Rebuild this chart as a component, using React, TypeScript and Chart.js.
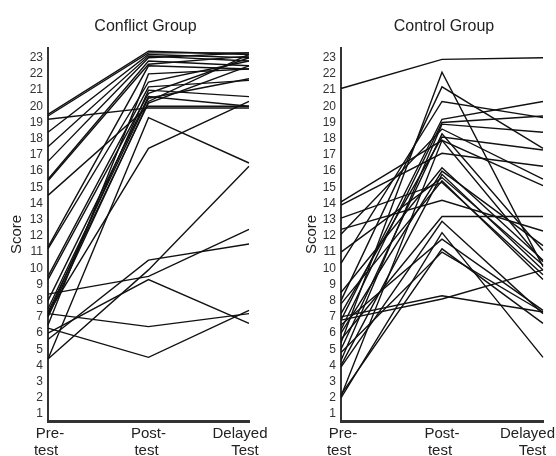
import React, { useEffect, useRef } from 'react';
import { Chart, registerables } from 'chart.js';

Chart.register(...registerables);

const CATEGORIES = ['Pre-test', 'Post-test', 'Delayed Test'];
const CATEGORY_LINES = [['Pre-', 'test'], ['Post-', 'test'], ['Delayed', 'Test']];
const Y_TICKS = [1, 2, 3, 4, 5, 6, 7, 8, 9, 10, 11, 12, 13, 14, 15, 16, 17, 18, 19, 20, 21, 22, 23];

// Conflict Group: one entry per student
const conflictPre = [19.4, 19.5, 18.4, 17.5, 16.6, 15.5, 15.4, 14.5, 19.2, 11.3, 11.2, 9.5, 9.3, 7.5, 7.3, 7.1, 7.0, 7.2, 4.4, 6.5, 8.0, 6.3, 7.2, 6.0, 5.6, 8.4, 4.4];
const conflictPost = [23.3, 23.4, 23.2, 23.1, 23.0, 22.8, 22.6, 20.0, 19.9, 22.5, 21.5, 21.2, 20.8, 20.5, 20.2, 21.0, 20.3, 17.4, 19.3, 22.0, 20.6, 4.5, 6.4, 9.3, 10.5, 9.5, 9.9];
const conflictDelayed = [23.3, 23.2, 23.0, 22.8, 23.3, 22.5, 23.1, 20.0, 19.9, 22.3, 22.8, 21.6, 23.0, 21.7, 22.5, 20.6, 23.2, 20.3, 16.5, 22.3, 20.0, 7.4, 7.2, 6.6, 11.5, 12.4, 16.3];

// Control Group: one entry per student
const controlPre = [21.1, 5.4, 8.0, 10.3, 6.8, 6.2, 4.3, 12.1, 7.2, 2.1, 13.9, 14.1, 5.0, 8.5, 6.0, 4.0, 11.0, 7.8, 13.1, 12.4, 5.6, 3.9, 2.0, 6.5, 2.2, 4.8, 7.0, 6.8];
const controlPost = [22.9, 22.1, 21.2, 20.3, 19.2, 19.0, 18.9, 18.6, 18.1, 17.9, 17.1, 17.9, 18.3, 16.2, 16.0, 15.8, 15.6, 15.4, 15.3, 14.2, 13.2, 12.9, 12.2, 11.8, 11.2, 11.0, 8.3, 8.1];
const controlDelayed = [23.0, 10.1, 17.4, 19.3, 20.3, 19.4, 18.4, 15.5, 17.3, 10.4, 16.3, 15.1, 11.1, 10.5, 11.4, 9.9, 10.2, 9.3, 9.6, 12.3, 13.2, 7.2, 4.5, 7.4, 6.6, 7.3, 7.3, 9.9];

const FONT = '"Liberation Sans", Arial, Helvetica, sans-serif';

const labelsPlugin = {
  id: 'panelLabels',
  afterDraw(chart: any, _args: any, opts: any) {
    const { ctx, chartArea } = chart;
    const x = chart.scales.x;
    ctx.save();
    ctx.fillStyle = '#222';
    ctx.textAlign = 'center';
    ctx.textBaseline = 'middle';
    ctx.font = `16px ${FONT}`;
    ctx.fillText(opts.title, (chartArea.left + chartArea.right) / 2 + opts.titleShift, 27);
    ctx.font = `15px ${FONT}`;
    const last = CATEGORY_LINES.length - 1;
    CATEGORY_LINES.forEach((lines, i) => {
      let cx = x.getPixelForValue(i);
      if (i === last) {
        const w0 = ctx.measureText(lines[0]).width;
        cx = Math.min(cx - 9, chart.width - w0 / 2 - 1);
      }
      lines.forEach((t, j) => {
        const dx = i === last && j === 1 ? 5 : (i === 0 && j === 0 ? 2 : (j === 1 && i !== last ? -2 : 0));
        ctx.fillText(t, cx + dx, x.top + 13 + j * 16.5);
      });
    });
    ctx.restore();
  },
};

type PanelProps = {
  title: string;
  pre: number[];
  post: number[];
  delayed: number[];
  axisWidth: number;
  scorePad: number;
  rightPad: number;
  titleShift: number;
};

function Panel({ title, pre, post, delayed, axisWidth, scorePad, rightPad, titleShift }: PanelProps) {
  const ref = useRef<HTMLCanvasElement | null>(null);
  useEffect(() => {
    if (!ref.current) return;
    const datasets = pre.map((p, i) => ({
      label: `${title} ${i + 1}`,
      data: [p, post[i], delayed[i]],
      borderColor: '#111',
      borderWidth: 1.4,
      pointRadius: 0,
      fill: false,
      tension: 0,
    }));
    const chart = new Chart(ref.current, {
      type: 'line',
      data: { labels: CATEGORIES, datasets },
      options: {
        animation: false,
        responsive: false,
        layout: { padding: { top: 48, right: rightPad, left: 0, bottom: 0 } },
        plugins: {
          legend: { display: false },
          tooltip: { enabled: false },
          title: { display: false },
          panelLabels: { title, titleShift },
        } as any,
        scales: {
          x: {
            type: 'category',
            offset: false,
            grid: { display: false, drawTicks: false },
            border: { display: true, color: '#333', width: 3 },
            ticks: { display: false },
            afterFit: (s: any) => { s.height = 35; },
          },
          y: {
            min: 0.57,
            max: 23.6,
            afterBuildTicks: (s: any) => { s.ticks = Y_TICKS.map((v) => ({ value: v })); },
            afterFit: (s: any) => { s.width = axisWidth; },
            grid: { display: false, drawTicks: false },
            border: { display: true, color: '#333', width: 2 },
            ticks: { padding: 5, color: '#333', autoSkip: false, font: { size: 12, family: FONT } },
            title: {
              display: true,
              text: 'Score',
              color: '#222',
              font: { size: 15, family: FONT, lineHeight: 1.2 },
              padding: { top: scorePad, bottom: 0 },
            },
          },
        },
      },
      plugins: [labelsPlugin as any],
    });
    return () => chart.destroy();
  }, []);
  return <canvas ref={ref} width={278} height={456} style={{ display: 'block', width: 278, height: 456 }} />;
}

export default function App() {
  useEffect(() => {
    document.body.style.margin = '0';
    document.body.style.background = '#fff';
  }, []);
  return (
    <div style={{ display: 'flex', width: 556, height: 456, background: '#fff' }}>
      <Panel title="Conflict Group" pre={conflictPre} post={conflictPost} delayed={conflictDelayed}
        axisWidth={48} scorePad={8} rightPad={29} titleShift={-3} />
      <Panel title="Control Group" pre={controlPre} post={controlPost} delayed={controlDelayed}
        axisWidth={63} scorePad={25} rightPad={13} titleShift={2} />
    </div>
  );
}
